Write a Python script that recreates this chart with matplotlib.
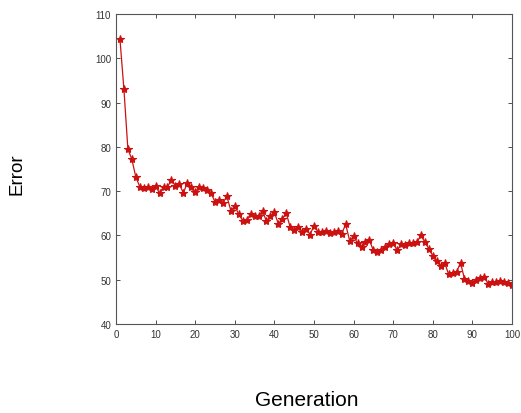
import matplotlib
matplotlib.use("Agg")
import matplotlib.pyplot as plt
import numpy as np

generation = np.arange(1, 101)
error = [
    104.3, 93.0, 79.5, 77.2, 73.2, 71.0, 70.8, 70.9, 70.5, 71.2,
    69.5, 71.0, 71.0, 72.5, 71.2, 71.6, 69.6, 71.8, 71.0, 69.8,
    71.0, 70.8, 70.3, 69.5, 67.6, 67.9, 67.4, 68.8, 65.6, 66.6,
    64.8, 63.3, 63.5, 64.8, 64.3, 64.5, 65.5, 63.2, 64.4, 65.2,
    62.6, 63.8, 65.0, 61.8, 61.2, 62.0, 60.8, 61.5, 60.2, 62.2,
    60.8, 60.7, 61.0, 60.6, 60.8, 61.1, 60.4, 62.5, 58.8, 59.8,
    58.2, 57.5, 58.6, 58.9, 56.6, 56.3, 56.8, 57.3, 58.0, 58.3,
    56.6, 58.0, 57.8, 58.3, 58.2, 58.5, 60.0, 58.5, 57.0, 55.4,
    54.3, 53.2, 53.8, 51.2, 51.5, 51.8, 53.8, 50.2, 49.7, 49.3,
    50.0, 50.5, 50.7, 49.0, 49.5, 49.4, 49.7, 49.5, 49.3, 48.9,
]
x_ticks = list(range(0, 101, 10))
y_ticks = list(range(40, 111, 10))

plt.rcParams["font.family"] = ["Liberation Sans", "DejaVu Sans"]

fig = plt.figure(figsize=(5.21, 4.14), dpi=100)
ax = fig.add_axes([116 / 521, 1 - 325 / 414, (512 - 116) / 521, (325 - 15) / 414])

ax.plot(generation, error, color="#cc1111", linewidth=0.9,
        marker="*", markersize=6, markeredgewidth=0.8)

ax.set_xlim(0, 100)
ax.set_ylim(40, 110)
ax.set_xticks(x_ticks)
ax.set_yticks(y_ticks)
ax.tick_params(direction="in", top=True, right=True, length=3,
               labelsize=7, colors="#333333", width=0.6)
for spine in ax.spines.values():
    spine.set_color("#555555")
    spine.set_linewidth(0.8)

fig.text(17 / 521, 1 - 174 / 414, "Error", rotation=90,
         ha="center", va="center", fontsize=13.5)
fig.text(307 / 521, 1 - 401 / 414, "Generation",
         ha="center", va="center", fontsize=15)

fig.savefig("out.png", dpi=100)
